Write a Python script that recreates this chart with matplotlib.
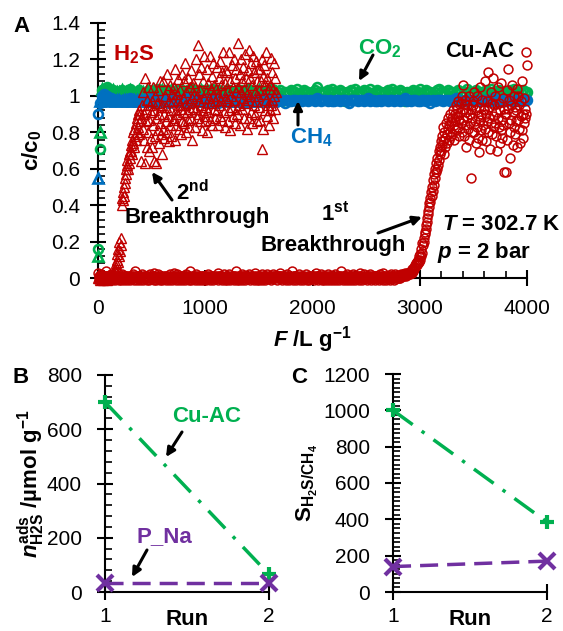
import numpy as np
import matplotlib.pyplot as plt
from matplotlib.ticker import MultipleLocator, FixedLocator, FuncFormatter

plt.rcParams['font.family'] = 'Liberation Sans'
plt.rcParams['mathtext.fontset'] = 'custom'
plt.rcParams['mathtext.rm'] = 'Liberation Sans:bold'
plt.rcParams['mathtext.it'] = 'Liberation Sans:italic:bold'
plt.rcParams['mathtext.bf'] = 'Liberation Sans:bold'

W, H = 563, 631

RED = '#C00000'
GREEN = '#00B050'
BLUE = '#0070C0'
PURPLE = '#7030A0'

# Panel A: breakthrough curves c/c0 over F (L/g), sampled every STEP L/g
STEP_H2S = 5
STEP_GAS = 20

# run 1 (circles), 0..4000 L/g
h2s_run1 = [
    .03, .01, 0, -.01, .01, 0, .02, -.01, 0, .01, 0, .01, -.01, 0, .04, 0, .01, -.01, 0, .01,
    -.01, 0, .01, 0, 0, .02, -.01, .01, 0, 0, .01, 0, -.01, .01, 0, 0, .01, .03, 0, -.01,
    0, .01, 0, -.01, .02, 0, .01, 0, -.01, .01, .01, 0, .01, 0, -.01, .01, 0, .01, 0, 0,
    -.01, .01, 0, .01, 0, .02, 0, -.01, .01, .04, 0, .01, -.01, 0, .01, 0, 0, .01, -.01, 0,
    .01, 0, .02, -.01, 0, .01, 0, 0, .01, 0, 0, -.01, .01, 0, .01, 0, -.01, .02, 0, .01,
    .01, 0, 0, .01, -.01, .03, 0, .01, 0, -.01, 0, .01, .02, 0, .01, -.01, 0, 0, .01, 0,
    -.01, 0, .01, 0, 0, .01, -.01, .01, 0, 0, .01, 0, -.01, 0, .02, 0, .01, 0, -.01, .01,
    0, .03, 0, .01, 0, -.01, .01, 0, .02, 0, .01, -.01, 0, .01, 0, 0, .01, -.01, 0, .01,
    0, .01, 0, -.01, .01, .02, 0, .01, 0, -.01, .01, 0, .04, 0, -.01, .01, 0, 0, .01, 0,
    -.01, .01, 0, .02, 0, .01, -.01, 0, .01, 0, 0, 0, .01, -.01, .01, 0, .01, 0, -.01, .01,
    .01, 0, -.01, 0, .01, 0, .02, .01, 0, -.01, 0, .01, 0, .01, -.01, .01, 0, 0, .01, 0,
    0, .01, 0, .03, -.01, .01, 0, 0, .01, 0, .01, -.01, .01, 0, 0, .02, 0, -.01, .01, 0,
    .01, -.01, .01, 0, 0, .02, 0, -.01, .01, 0, 0, .01, 0, -.01, .01, 0, .01, 0, .04, -.01,
    0, .01, 0, -.01, .01, 0, .01, 0, .02, -.01, .01, 0, .01, 0, -.01, .01, 0, .01, 0, 0,
    .01, 0, .02, 0, -.01, .01, 0, .01, 0, 0, -.01, .01, 0, .03, 0, .01, -.01, 0, .01, 0,
    -.01, .01, 0, .01, 0, .02, -.01, 0, .01, 0, 0, .01, -.01, 0, .01, 0, .02, 0, .01, 0,
    0, .01, -.01, 0, .01, 0, .02, 0, .01, 0, .01, 0, .01, -.01, .01, .01, 0, .01, 0, .03,
    .01, 0, .01, -.01, 0, .01, 0, .01, 0, .01, 0, -.01, .02, 0, .01, 0, -.01, .01, 0, 0,
    0, .04, 0, .01, -.01, 0, .01, 0, .01, -.01, .01, 0, 0, .01, 0, .02, -.01, 0, .01, 0,
    .01, 0, -.01, .01, 0, .01, 0, .02, 0, -.01, 0, .01, 0, .01, -.01, 0, .01, 0, 0, .01,
    0, .01, 0, -.01, .01, 0, .03, 0, .01, 0, -.01, .01, 0, .01, 0, .02, 0, -.01, .01, 0,
    .01, -.01, 0, .01, 0, 0, .01, -.01, .02, 0, .01, 0, -.01, .01, 0, .01, 0, 0, .01, -.01,
    0, .01, .02, 0, -.01, .01, 0, .01, 0, .01, -.01, 0, .01, .04, 0, .01, -.01, 0, .01, 0,
    .01, 0, -.01, .01, 0, .02, 0, .01, -.01, 0, .01, 0, .01, 0, -.01, .01, .02, 0, .01, 0,
    -.01, .01, 0, 0, .01, 0, .01, -.01, 0, .03, 0, .01, 0, -.01, .01, 0, .02, 0, .01, 0,
    0, .01, -.01, .01, 0, .01, 0, .02, 0, -.01, .01, 0, .01, 0, 0, .01, -.01, .01, 0, .01,
    .01, 0, .01, 0, -.01, .02, 0, .01, 0, .01, 0, -.01, .03, 0, .01, 0, .01, -.01, 0, .01,
    0, .01, 0, .01, -.01, 0, .01, .02, 0, .01, 0, .01, -.01, 0, .02, .01, 0, .01, .01, 0,
    .01, 0, .01, .01, 0, .02, .01, .01, .02, .01, .02, .01, .02, .03, .02, .01, .02, .03, .02, .03,
    .02, .03, .02, .03, .04, .03, .05, .04, .04, .06, .05, .07, .06, .08, .07, .09, .08, .1, .09, .12,
    .1, .13, .12, .16, .14, .19, .18, .22, .2, .25, .24, .29, .27, .33, .31, .37, .35, .41, .39, .44,
    .42, .47, .45, .5, .48, .54, .51, .57, .55, .6, .58, .63, .6, .66, .62, .7, .65, .72, .68, .75,
    .7, .78, .73, .83, .75, .68, .8, .77, .72, .85, .79, .74, .82, .88, .76, .84, .8, .9, .78, .86,
    .88, .79, .92, .84, .76, .9, .86, .95, .81, .89, .93, .83, .97, .87, .78, .91, .85, .96, .8, 1.0,
    1.06, .87, .93, .78, .98, .84, .91, .72, .95, .88, .82, 1.0, .76, .9, .85, .93, .55, .88, .8, .97,
    .95, .8, 1.02, .86, .74, .92, .83, 1.0, .89, .77, .94, .69, .87, 1.05, .81, .9, .76, .98, .84, .92,
    .93, 1.08, .82, .9, .75, .97, .86, 1.13, .8, .94, .88, .71, 1.02, .85, .96, .79, 1.1, .89, .83, .95,
    .85, 1.0, .78, .91, .7, 1.05, .88, .83, .96, .74, .92, .81, 1.07, .87, .77, .99, .84, .93, .58, .9,
    .9, .58, 1.03, .76, .93, 1.15, .85, .98, .8, .66, .95, .87, 1.06, .73, .91, .83, 1.0, .79, .94, .86,
    .92, 1.04, .72, .87, 1.0, .82, .95, .74, .89, .97, .81, 1.08, .9, .77, .85, .99, .88, .93, 1.24, .9,
    1.17,
]

# run 2 (triangles), 0..1660 L/g
h2s_run2 = [
    0, .01, 0, -.01, 0, .01, 0, 0, .01, 0, -.01, 0, .01, 0, 0, .01, 0, -.01, 0, .01,
    0, .01, 0, 0, .01, 0, .01, .02, .01, .02, .03, .05, .04, .08, .06, .1, .13, .09, .16, .12,
    .2, .15, .22, .18, .44, .4, .47, .43, .45, .5, .55, .52, .6, .57, .62, .65, .6, .68, .63, .7,
    .66, .73, .7, .76, .68, .8, .74, .82, .72, .78, .85, .76, .88, .8, .9, .83, .79, .92, .86, .9,
    .88, .64, .95, .82, 1.02, .76, .9, .63, 1.1, .86, .93, .72, .98, .8, 1.05, .7, .87, .95, .77, .91,
    .72, .97, .84, 1.05, .64, .92, .78, 1.0, .88, .63, .96, .81, 1.03, .74, .9, .85, 1.08, .79, .94, .68,
    .95, .82, 1.08, .9, .77, 1.0, .86, .94, 1.12, .8, .89, 1.04, .75, .97, .84, 1.06, .92, .78, 1.01, .87,
    .97, .88, 1.05, .76, 1.15, .92, .84, 1.01, .9, .98, 1.09, .82, .95, 1.03, .79, .93, 1.12, .86, .99, .91,
    1.08, .85, .95, 1.18, .8, 1.02, .91, .87, 1.1, .96, .83, 1.05, .93, 1.14, .88, .99, .76, 1.07, .94, 1.01,
    .83, 1.05, .93, 1.2, .88, 1.0, 1.28, .9, .97, 1.12, .86, 1.03, .95, 1.16, .81, 1.08, .92, .99, 1.22, .89,
    .86, 1.02, .94, 1.15, .8, 1.07, .91, .99, 1.22, .87, 1.04, .96, 1.11, .84, 1.0, 1.18, .93, 1.06, .88, .97,
    1.04, .92, 1.16, .84, 1.0, 1.1, .95, 1.19, .89, 1.06, .98, 1.13, .87, 1.02, 1.24, .91, 1.07, .83, .99, 1.14,
    .97, 1.13, .86, 1.03, 1.24, .92, 1.08, .81, 1.0, 1.17, .94, 1.05, .89, 1.2, .98, 1.1, .85, 1.02, 1.15, .93,
    .9, 1.05, 1.29, .95, 1.12, .84, 1.02, 1.2, .93, 1.08, .99, 1.16, .88, 1.04, 1.23, .96, 1.1, .82, 1.01, 1.14,
    .98, 1.25, .88, 1.1, 1.0, 1.18, .91, 1.06, .85, 1.22, .95, 1.13, 1.02, .9, 1.19, .97, 1.08, .86, 1.15, 1.0,
    1.03, .94, 1.15, .87, 1.08, 1.2, .71, 1.11, .82, 1.01, 1.17, .92, 1.06, .98, 1.24, .89, 1.1, .95, 1.04, .84,
    1.06, .92, 1.21, .95, 1.13, .98, 1.04, .88, 1.18, 1.0, .93, 1.1, 1.02,
]

co2_run1 = [
    0.16, 0.71, 1.03, 1.04, 1.05, 1.04, 1.03, 1.03, 1.02, 1.02,
    1.02, 1.03, 1.02, 1.01, 1.02, 1.04, 1.02, 1.01, 1.02, 1.03,
    1.02, 1.01, 0.97, 1.02, 1.03, 1.02, 1.01, 1.02, 1.04, 1.02,
    1.01, 1.02, 1.03, 1.02, 1.01, 1.02, 1.02, 1.03, 0.97, 1.02,
    1.01, 1.02, 1.03, 1.02, 1.04, 1.01, 1.02, 1.02, 1.03, 1.02,
    1.01, 1.02, 1.02, 1.04, 1.02, 1.01, 1.03, 1.02, 1.02, 1.01,
    1.02, 1.03, 1.02, 1.01, 0.97, 1.02, 1.03, 1.02, 1.01, 1.02,
    1.04, 1.02, 1.01, 1.02, 1.03, 1.02, 1.02, 1.01, 1.02, 1.03,
    1.02, 1.04, 1.02, 1.01, 1.02, 1.03, 0.97, 1.02, 1.01, 1.02,
    1.03, 1.02, 1.02, 1.04, 1.01, 1.02, 1.03, 1.02, 1.02, 1.01,
    1.02, 1.03, 1.05, 1.02, 1.01, 1.02, 1.02, 1.03, 1.02, 1.04,
    1.02, 1.01, 1.02, 1.03, 1.02, 0.97, 1.02, 1.01, 1.03, 1.02,
    1.04, 1.02, 1.01, 1.02, 1.03, 1.02, 1.02, 1.04, 1.01, 1.02,
    1.03, 1.02, 1.02, 1.01, 1.02, 1.03, 1.02, 1.04, 1.02, 1.01,
    1.02, 1.03, 1.02, 0.97, 1.02, 1.01, 1.02, 1.03, 1.02, 1.02,
    1.04, 1.01, 1.02, 1.03, 1.02, 1.02, 1.01, 1.02, 1.03, 1.04,
    1.02, 1.01, 1.02, 1.03, 1.02, 1.02, 0.98, 1.02, 1.03, 1.02,
    1.01, 1.02, 1.04, 1.02, 1.01, 1.02, 1.03, 1.02, 1.02, 1.01,
    1.02, 1.03, 1.02, 1.04, 1.02, 1.01, 1.02, 1.03, 1.02, 1.02,
    1.01, 1.02, 1.03, 1.02, 1.04, 1.02, 1.01, 1.02, 1.03, 1.02,
    1.02,
]

co2_run2 = [
    0.12, 0.80, 1.04, 1.03, 1.03, 1.02, 1.02, 1.03, 1.01, 1.02,
    1.02, 1.03, 1.01, 1.02, 1.02, 1.03, 1.02, 1.01, 1.02, 1.03,
    1.02, 1.02, 1.01, 1.03, 1.02, 1.02, 1.03, 1.01, 1.02, 1.02,
    1.03, 1.02, 1.01, 1.02, 1.03, 1.02, 1.02, 1.01, 1.02, 1.03,
    1.02, 1.01, 1.02, 1.02, 1.03, 1.02, 1.01, 1.02, 1.03, 1.02,
    1.02, 1.03, 1.01, 1.02, 1.02, 1.03, 1.02, 1.01, 1.02, 1.02,
    1.03, 1.02, 1.02, 1.01, 1.02, 1.03, 1.02, 1.02, 1.01, 1.02,
    1.03, 1.02, 1.01, 1.02, 1.02, 1.03, 1.02, 1.02, 1.01, 1.02,
    1.02, 1.03, 1.02, 1.02,
]

ch4_run1 = [
    0.90, 0.96, 1.00, 1.01, 1.00, 0.99, 0.99, 0.98, 0.98, 0.98,
    0.98, 0.97, 0.98, 0.98, 0.97, 0.99, 0.98, 0.97, 0.98, 0.97,
    0.97, 0.98, 0.98, 0.97, 0.98, 0.99, 0.97, 0.98, 0.98, 0.97,
    0.98, 0.97, 0.98, 0.96, 0.98, 0.97, 0.98, 0.98, 0.97, 0.98,
    0.97, 0.98, 0.99, 0.97, 0.98, 0.98, 0.97, 0.98, 0.97, 0.98,
    0.98, 0.97, 0.98, 0.98, 0.97, 0.98, 0.96, 0.98, 0.97, 0.98,
    0.97, 0.98, 0.98, 0.97, 0.99, 0.98, 0.97, 0.98, 0.98, 0.97,
    0.98, 0.97, 0.98, 0.97, 0.98, 0.98, 0.97, 0.98, 0.99, 0.97,
    0.98, 0.98, 0.97, 0.98, 0.97, 0.98, 0.98, 0.96, 0.98, 0.97,
    0.97, 0.98, 0.98, 0.97, 0.98, 0.97, 0.98, 0.98, 0.97, 0.98,
    0.98, 0.97, 0.99, 0.98, 0.97, 0.98, 0.98, 0.97, 0.98, 0.97,
    0.97, 0.98, 0.98, 0.97, 0.98, 0.98, 0.97, 0.96, 0.98, 0.98,
    0.98, 0.97, 0.98, 0.98, 0.97, 0.98, 0.99, 0.97, 0.98, 0.97,
    0.97, 0.98, 0.97, 0.98, 0.98, 0.97, 0.98, 0.98, 0.97, 0.98,
    0.98, 0.97, 0.98, 0.99, 0.97, 0.98, 0.97, 0.98, 0.98, 0.97,
    0.97, 0.98, 0.98, 0.97, 0.98, 0.96, 0.98, 0.97, 0.98, 0.98,
    0.98, 0.97, 0.98, 0.98, 0.97, 0.98, 0.97, 0.99, 0.98, 0.97,
    0.97, 0.98, 0.97, 0.98, 0.98, 0.97, 0.98, 0.98, 0.97, 0.98,
    0.98, 0.97, 0.98, 0.97, 0.99, 0.98, 0.97, 0.98, 0.98, 0.97,
    0.97, 0.98, 0.98, 0.97, 0.98, 0.97, 0.98, 0.98, 0.97, 0.98,
    0.98,
]

ch4_run2 = [
    0.55, 0.97, 0.99, 0.98, 0.98, 0.97, 0.98, 0.98, 0.97, 0.98,
    0.98, 0.97, 0.98, 0.98, 0.97, 0.98, 0.97, 0.98, 0.98, 0.97,
    0.98, 0.97, 0.98, 0.98, 0.97, 0.98, 0.98, 0.97, 0.98, 0.97,
    0.97, 0.98, 0.98, 0.97, 0.98, 0.97, 0.98, 0.98, 0.97, 0.98,
    0.98, 0.97, 0.98, 0.97, 0.98, 0.98, 0.97, 0.98, 0.98, 0.97,
    0.97, 0.98, 0.98, 0.97, 0.98, 0.98, 0.97, 0.98, 0.97, 0.98,
    0.98, 0.97, 0.98, 0.98, 0.97, 0.98, 0.97, 0.98, 0.98, 0.97,
    0.97, 0.98, 0.97, 0.98, 0.98, 0.97, 0.98, 0.98, 0.97, 0.98,
    0.98, 0.97, 0.98, 0.98,
]

# Panels B and C: per-run H2S uptake and H2S/CH4 selectivity
runs = [1, 2]
nads_cuac = [700, 65]
nads_pna = [32, 32]
sel_cuac = [1000, 385]
sel_pna = [140, 170]


def at(x, y):
    # pixel position (from top-left) -> figure fraction
    return x / W, 1 - y / H


def scatter(ax, y, step, marker, color, ms, mew):
    x = np.arange(len(y)) * step
    ax.plot(x, y, ls='none', marker=marker, mfc='none', mec=color, ms=ms,
            mew=mew, clip_on=False, zorder=3)


def style(ax, ypad, xpad):
    for s in ['top', 'right']:
        ax.spines[s].set_visible(False)
    for s in ['left', 'bottom']:
        ax.spines[s].set_linewidth(1.5)
    ax.tick_params(which='major', direction='inout', length=11, width=1.5,
                   labelsize=15)
    ax.tick_params(which='minor', direction='in', length=5, width=1.2)
    ax.tick_params(axis='y', which='major', pad=ypad)
    ax.tick_params(axis='x', which='major', pad=xpad)


def label(x, y, s, color='black', ha='left', size=16):
    fig.text(*at(x, y), s, color=color, ha=ha, va='baseline',
             fontsize=size, fontweight='bold')


def arrow(tail, head):
    fig.add_artist(plt.Annotation(
        '', xy=(head[0], H - head[1]), xycoords='figure pixels',
        xytext=(tail[0], H - tail[1]), textcoords='figure pixels',
        arrowprops=dict(arrowstyle='-|>', color='black', lw=2.2,
                        mutation_scale=13, shrinkA=0, shrinkB=0)))


fig = plt.figure(figsize=(W / 100, H / 100), dpi=100)

# ---- panel A
axA = fig.add_axes([98 / W, 1 - 278 / H, 429 / W, 255 / H])
scatter(axA, co2_run2, STEP_GAS, '^', GREEN, 7, 1.9)
scatter(axA, co2_run1, STEP_GAS, 'o', GREEN, 6.4, 1.9)
scatter(axA, ch4_run2, STEP_GAS, '^', BLUE, 7, 1.9)
scatter(axA, ch4_run1, STEP_GAS, 'o', BLUE, 6.4, 1.9)
scatter(axA, h2s_run2, STEP_H2S, '^', RED, 7.3, 1.0)
scatter(axA, h2s_run1, STEP_H2S, 'o', RED, 6.4, 1.1)
axA.set_xlim(0, 4000)
axA.set_ylim(0, 1.4)
axA.xaxis.set_major_locator(MultipleLocator(1000))
axA.xaxis.set_minor_locator(MultipleLocator(200))
axA.yaxis.set_major_locator(MultipleLocator(0.2))
axA.yaxis.set_minor_locator(MultipleLocator(0.04))
axA.yaxis.set_major_formatter(FuncFormatter(lambda v, p: f'{v:g}'))
style(axA, 7.5, 9.4)
axA.set_xlabel(r'$F$ /L g$^{-1}$', fontsize=16, fontweight='bold')
axA.xaxis.set_label_coords(0.5, -0.18)
axA.set_ylabel(r'c/c$_\mathrm{0}$', fontsize=16, fontweight='bold')
axA.yaxis.set_label_coords(-0.125, 0.5)

# ---- panel B
axB = fig.add_axes([105 / W, 1 - 592 / H, 164 / W, 217 / H])
axB.plot(runs, nads_cuac, color=GREEN, lw=2.5, ls=(0, (7, 3.2, 1, 3.2)),
         marker='+', ms=10, mew=3, clip_on=False, zorder=3)
axB.plot(runs, nads_pna, color=PURPLE, lw=2.5, ls=(0, (5.2, 2.6)),
         marker='x', ms=12, mew=3, clip_on=False, zorder=3)
axB.set_xlim(1, 2)
axB.set_ylim(0, 800)
axB.xaxis.set_major_locator(FixedLocator(runs))
axB.yaxis.set_major_locator(MultipleLocator(200))
axB.yaxis.set_minor_locator(MultipleLocator(40))
style(axB, 11, 5.3)
axB.set_xlabel('Run', fontsize=16, fontweight='bold')
axB.xaxis.set_label_coords(0.5, -0.08)
axB.set_ylabel(r'$n^{\mathrm{ads}}_{\mathrm{H2S}}$ /µmol g$^{-1}$',
               fontsize=16, fontweight='bold')
axB.yaxis.set_label_coords(-0.355, 0.5)

# ---- panel C
axC = fig.add_axes([393 / W, 1 - 592 / H, 154 / W, 218 / H])
axC.plot(runs, sel_cuac, color=GREEN, lw=2.5, ls=(0, (7, 3.2, 1, 3.2)),
         marker='+', ms=10, mew=3, clip_on=False, zorder=3)
axC.plot(runs, sel_pna, color=PURPLE, lw=2.5, ls=(0, (5.2, 2.6)),
         marker='x', ms=12, mew=3, clip_on=False, zorder=3)
axC.set_xlim(1, 2)
axC.set_ylim(0, 1200)
axC.xaxis.set_major_locator(FixedLocator(runs))
axC.yaxis.set_major_locator(MultipleLocator(200))
axC.yaxis.set_minor_locator(MultipleLocator(25))
style(axC, 11, 5.3)
axC.set_xlabel('Run', fontsize=16, fontweight='bold')
axC.xaxis.set_label_coords(0.5, -0.08)
axC.set_ylabel(r'S$_{\mathrm{H_2S/CH_4}}$', fontsize=16, fontweight='bold')
axC.yaxis.set_label_coords(-0.475, 0.5)

# ---- texts and arrows
label(13, 32, 'A')
label(113, 60, r'H$_2$S', RED)
label(358, 54, r'CO$_2$', GREEN)
label(290, 143, r'CH$_4$', BLUE)
label(445, 57, 'Cu-AC')
label(192, 200, r'2$^{\mathrm{nd}}$', ha='center')
label(197, 223, 'Breakthrough', ha='center')
label(335, 220, r'1$^{\mathrm{st}}$', ha='center')
label(333, 251, 'Breakthrough', ha='center')
label(442, 230, r'$T$ = 302.7 K')
label(437, 258, r'$p$ = 2 bar')
arrow((373, 55), (359, 81))
arrow((298, 125), (298, 101))
arrow((172, 200), (152, 172))
arrow((378, 233), (422, 217))

label(13, 383, 'B')
label(172, 422, 'Cu-AC', GREEN)
label(137, 542, 'P_Na', PURPLE)
arrow((182, 432), (166, 457))
arrow((147, 550), (132, 577))

label(291, 383, 'C')

fig.savefig('out.png', dpi=100)
